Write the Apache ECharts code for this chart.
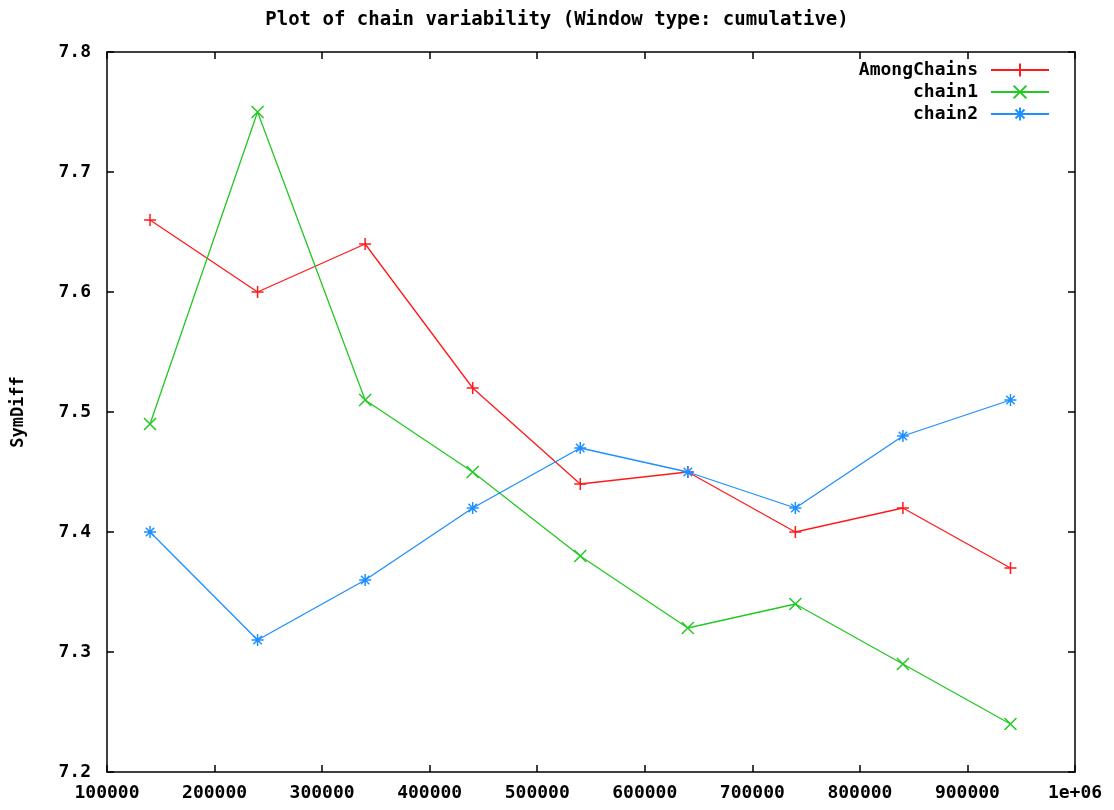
<!DOCTYPE html>
<html>
<head>
<meta charset="utf-8">
<title>Plot of chain variability</title>
<script src="https://cdn.jsdelivr.net/npm/echarts@6/dist/echarts.min.js"></script>
<style>
  html, body { margin: 0; padding: 0; background: #fff; }
  #chart { width: 1114px; height: 810px; }
</style>
</head>
<body>
<div id="chart"></div>
<script>
// data
const steps = [140000, 240000, 340000, 440000, 540000, 640000, 740000, 840000, 940000];
const amongChains = [7.66, 7.60, 7.64, 7.52, 7.44, 7.45, 7.40, 7.42, 7.37];
const chain1 = [7.49, 7.75, 7.51, 7.45, 7.38, 7.32, 7.34, 7.29, 7.24];
const chain2 = [7.40, 7.31, 7.36, 7.42, 7.47, 7.45, 7.42, 7.48, 7.51];

const seriesNames = ['AmongChains', 'chain1', 'chain2'];
const seriesColors = ['#ff1a1a', '#22c922', '#1e8fff'];
// gnuplot point types: plus, cross, star
const PLUS = 'path://M0,10 L20,10 M10,0 L10,20';
const CROSS = 'path://M0,0 L20,20 M20,0 L0,20';
const STAR = 'path://M0,10 L20,10 M10,0 L10,20 M3,3 L17,17 M17,3 L3,17';
const seriesSymbols = [PLUS, CROSS, STAR];

const FONT = '"DejaVu Sans Mono", "Liberation Mono", monospace';

function pairs(ys) {
  return ys.map((y, i) => [steps[i], y]);
}

var chart = echarts.init(document.getElementById('chart'));

const axisLine = { show: true, lineStyle: { color: '#000', width: 1.5 } };
const tickIn = { show: true, inside: true, length: 7, lineStyle: { color: '#000', width: 1.5 } };

chart.setOption({
  animation: false,
  backgroundColor: '#fff',
  title: {
    text: 'Plot of chain variability (Window type: cumulative)',
    left: 'center',
    top: 6,
    textStyle: { fontFamily: FONT, fontSize: 19, fontWeight: 'bold', color: '#000' }
  },
  // one legend per entry so the samples line up on the right
  legend: seriesNames.map((name, i) => ({
    data: [name],
    orient: 'vertical',
    right: 59,
    top: 56 + i * 22,
    align: 'right',
    itemWidth: 58,
    itemHeight: 16,
    textStyle: { fontFamily: FONT, fontSize: 18, fontWeight: 'bold', color: '#000', padding: [0, 8, 0, 0] },
    selectedMode: false
  })),
  grid: { left: 107, right: 39, top: 52, bottom: 38 },
  xAxis: [
    {
      type: 'value',
      min: 100000,
      max: 1000000,
      interval: 100000,
      axisLine: axisLine,
      axisTick: tickIn,
      splitLine: { show: false },
      axisLabel: {
        margin: 12,
        fontFamily: FONT, fontSize: 18, fontWeight: 'bold', color: '#000',
        formatter: v => (v === 1000000 ? '1e+06' : String(v))
      }
    },
    {
      type: 'value',
      position: 'top',
      min: 100000,
      max: 1000000,
      interval: 100000,
      axisLine: axisLine,
      axisTick: tickIn,
      splitLine: { show: false },
      axisLabel: { show: false }
    }
  ],
  yAxis: [
    {
      type: 'value',
      min: 7.2,
      max: 7.8,
      interval: 0.1,
      name: 'SymDiff',
      nameLocation: 'middle',
      nameRotate: 90,
      nameGap: 80,
      nameTextStyle: { fontFamily: FONT, fontSize: 17, fontWeight: 'bold', color: '#000' },
      axisLine: axisLine,
      axisTick: tickIn,
      splitLine: { show: false },
      axisLabel: {
        margin: 16,
        fontFamily: FONT, fontSize: 18, fontWeight: 'bold', color: '#000',
        formatter: v => v.toFixed(1)
      }
    },
    {
      type: 'value',
      position: 'right',
      min: 7.2,
      max: 7.8,
      interval: 0.1,
      axisLine: axisLine,
      axisTick: tickIn,
      splitLine: { show: false },
      axisLabel: { show: false }
    }
  ],
  series: [amongChains, chain1, chain2].map((ys, i) => ({
    name: seriesNames[i],
    type: 'line',
    xAxisIndex: 0,
    yAxisIndex: 0,
    data: pairs(ys),
    symbol: seriesSymbols[i],
    symbolSize: 12,
    showAllSymbol: true,
    color: seriesColors[i],
    itemStyle: { color: seriesColors[i], borderColor: seriesColors[i], borderWidth: 1.5 },
    lineStyle: { color: seriesColors[i], width: 1.3 },
    emphasis: { disabled: true }
  }))
});
</script>
</body>
</html>
